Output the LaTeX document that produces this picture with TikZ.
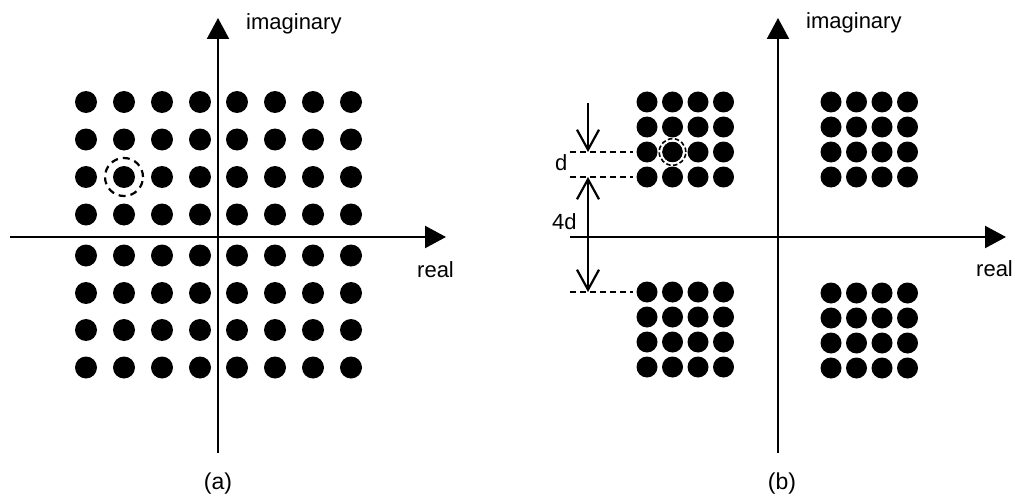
\documentclass[tikz,border=0pt]{standalone}
\usepackage{fontspec}
\setmainfont{Liberation Sans}
\usetikzlibrary{arrows.meta}
\begin{document}
\begin{tikzpicture}[x=1pt,y=-1pt,
  axis/.style={line width=2.3pt,-{Triangle[length=21pt,width=22pt]}},
  bigdot/.style={circle,fill=black,draw=none,inner sep=0pt,minimum size=22pt},
  smalldot/.style={circle,fill=black,draw=none,inner sep=0pt,minimum size=21pt},
  lbl/.style={font=\fontsize{22}{26}\selectfont,inner sep=0pt},
  caplbl/.style={font=\fontsize{23}{27}\selectfont,inner sep=0pt},
  dimline/.style={line width=2.2pt},
  guide/.style={line width=2.2pt,dash pattern=on 6pt off 4pt}
]
\useasboundingbox (0,0) rectangle (1013,495);

% ---------- (a) 64-point square constellation ----------
\coordinate (ax-l) at (10,237);
\coordinate (ax-r) at (446,237);
\coordinate (ay-b) at (218,453);
\coordinate (ay-t) at (218,18);
\draw[axis] (ax-l) -- (ax-r);
\draw[axis] (ay-b) -- (ay-t);

\foreach \c [count=\i] in {86,124,162,200,237,275,313,351}
  \foreach \r [count=\j] in {102,139.5,177,214.5,255.5,293,330,367.5}
    \node[bigdot] (a-\i-\j) at (\c,\r) {};

\draw[line width=2.2pt,dash pattern=on 7pt off 5pt] (a-2-3.center) circle[radius=19pt];

\node[lbl,anchor=base west] (ima) at (246,30) {imaginary};
\node[lbl,anchor=base west] (rea) at (417,277) {real};
\node[caplbl,anchor=base] (capa) at (218,489) {(a)};

% ---------- (b) clustered constellation ----------
\coordinate (bx-l) at (570,237);
\coordinate (bx-r) at (1006,237);
\coordinate (by-b) at (778,453);
\coordinate (by-t) at (778,18);
\draw[axis] (bx-l) -- (bx-r);
\draw[axis] (by-b) -- (by-t);

\foreach \cx/\cy/\n in {647/102/ul, 831/102/ur, 647/292/ll, 831/293/lr}
  \foreach \i in {0,...,3}
    \foreach \j in {0,...,3}
      \node[smalldot] (\n-\i-\j) at ({\cx+25.5*\i},{\cy+25*\j}) {};

\draw[white,line width=2.5pt] (ul-1-2.center) circle[radius=11.8pt];
\draw[line width=1.6pt,dash pattern=on 4.5pt off 2.5pt] (ul-1-2.center) circle[radius=13.3pt];

% spacing guides
\coordinate (g1s) at (570,152); \coordinate (g1e) at (633,152);
\coordinate (g2s) at (570,177); \coordinate (g2e) at (633,177);
\coordinate (g3s) at (570,292); \coordinate (g3e) at (633,292);
\draw[guide] (g1s) -- (g1e);
\draw[guide] (g2s) -- (g2e);
\draw[guide] (g3s) -- (g3e);

\coordinate (d1a) at (588,103); \coordinate (d1b) at (588,152);
\coordinate (d2a) at (588,177); \coordinate (d2b) at (588,292);
\draw[dimline,-{Straight Barb[length=20pt,width=22pt]}] (d1a) -- (d1b);
\draw[dimline,{Straight Barb[length=20pt,width=22pt]}-{Straight Barb[length=20pt,width=22pt]}] (d2a) -- (d2b);

\node[lbl,anchor=base west] (dl) at (555,170) {d};
\node[lbl,anchor=base west] (fdl) at (552,229) {4d};

\node[lbl,anchor=base west] (imb) at (806,29) {imaginary};
\node[lbl,anchor=base west] (reb) at (976,276) {real};
\node[caplbl,anchor=base] (capb) at (782,489) {(b)};
\end{tikzpicture}
\end{document}
